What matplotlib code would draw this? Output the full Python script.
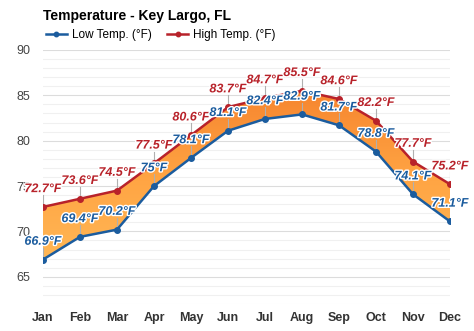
import matplotlib
matplotlib.use("Agg")
import matplotlib.pyplot as plt
import matplotlib.patheffects as pe
from matplotlib.colors import LinearSegmentedColormap
import numpy as np

plt.rcParams["font.family"] = ["Liberation Sans", "DejaVu Sans"]

# monthly averages for Key Largo
months = ["Jan", "Feb", "Mar", "Apr", "May", "Jun", "Jul", "Aug", "Sep", "Oct", "Nov", "Dec"]
low_temps = [66.9, 69.4, 70.2, 75.0, 78.1, 81.1, 82.4, 82.9, 81.7, 78.8, 74.1, 71.1]
high_temps = [72.7, 73.6, 74.5, 77.5, 80.6, 83.7, 84.7, 85.5, 84.6, 82.2, 77.7, 75.2]
low_labels = ["66.9°F", "69.4°F", "70.2°F", "75°F", "78.1°F", "81.1°F",
              "82.4°F", "82.9°F", "81.7°F", "78.8°F", "74.1°F", "71.1°F"]
high_labels = ["72.7°F", "73.6°F", "74.5°F", "77.5°F", "80.6°F", "83.7°F",
               "84.7°F", "85.5°F", "84.6°F", "82.2°F", "77.7°F", "75.2°F"]

blue = "#1b5c9e"
red = "#b8222a"

fig = plt.figure(figsize=(4.74, 3.31), dpi=100)
ax = fig.add_axes([43 / 474, 1 - 304 / 331, (450 - 43) / 474, (304 - 50) / 331])
x = np.arange(len(months))

# light grid every degree, stronger every 5
for v in range(62, 91):
    ax.axhline(v, color="#dcdcdc" if v % 5 == 0 else "#f0f0f0", lw=0.8, zorder=0)

# warm gradient between the two lines
poly = ax.fill_between(x, low_temps, high_temps, color="none", lw=0)
cmap = LinearSegmentedColormap.from_list("warm", ["#ffb957", "#ffa443", "#f6842e"])
grad = np.linspace(1, 0, 200).reshape(-1, 1)
img = ax.imshow(grad, cmap=cmap, extent=[0, 11, 66, 86], aspect="auto", zorder=1)
img.set_clip_path(poly.get_paths()[0], transform=ax.transData)

ax.plot(x, low_temps, color=blue, lw=1.8, marker="o", ms=4, zorder=3, label="Low Temp. (°F)")
ax.plot(x, high_temps, color=red, lw=1.8, marker="o", ms=4, zorder=3, label="High Temp. (°F)")

halo = [pe.withStroke(linewidth=2, foreground="white")]
for i in range(len(months)):
    for vals, labs, col in ((high_temps, high_labels, red), (low_temps, low_labels, blue)):
        ax.plot([i, i], [vals[i], vals[i] + 1.3], color="#b0b0b0", lw=0.8, zorder=2)
        ax.text(i, vals[i] + 1.3, labs[i], color=col, fontsize=9, fontweight="bold",
                fontstyle="italic", ha="center", va="bottom", zorder=4, path_effects=halo)

ax.set_xlim(0, 11)
ax.set_ylim(62, 90)
ax.set_yticks([65, 70, 75, 80, 85, 90])
ax.set_xticks(x)
ax.set_xticklabels(months, fontsize=9, fontweight="bold", color="#333333")
ax.tick_params(axis="y", labelsize=9, labelcolor="#444444", length=0, pad=9)
ax.tick_params(axis="x", length=0, pad=6)
for s in ax.spines.values():
    s.set_visible(False)

fig.text(43 / 474, 1 - 16 / 331, "Temperature - Key Largo, FL", fontsize=10,
         fontweight="bold", va="center", ha="left")
fig.legend(loc="center left", bbox_to_anchor=(41 / 474, 1 - 35 / 331), ncol=2, frameon=False,
           fontsize=8.5, handlelength=1.8, columnspacing=1.3, handletextpad=0.4,
           markerscale=0.8, borderaxespad=0)

fig.savefig("out.png", dpi=100)
